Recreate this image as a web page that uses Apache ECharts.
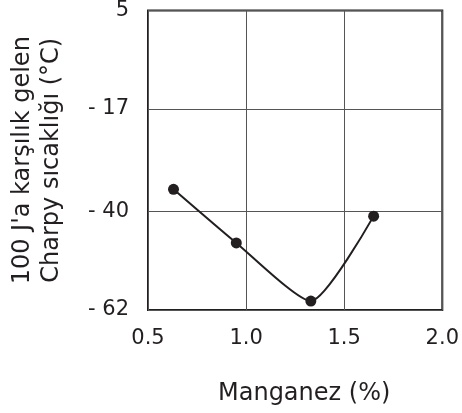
<!DOCTYPE html>
<html>
<head>
<meta charset="utf-8">
<script src="https://cdn.jsdelivr.net/npm/echarts@6/dist/echarts.min.js"></script>
<style>html,body{margin:0;padding:0;background:#fff}#c{width:462px;height:413px}</style>
</head>
<body>
<div id="c"></div>
<script>
var manganese = [0.63, 0.95, 1.33, 1.65];
var charpyTemp = [-35, -47, -60, -41];
var xTicks = [0.5, 1.0, 1.5, 2.0];
var yTicks = [5, -17, -40, -62];

var ink = '#231f20';
var font = 'DejaVu Sans';
var chart = echarts.init(document.getElementById('c'));
chart.setOption({
  animation: false,
  grid: {left: 143, right: 19, top: 10, bottom: 103, show: true, borderColor: ink, borderWidth: 2, backgroundColor: 'transparent'},
  xAxis: {
    type: 'value', min: 0.5, max: 2.0, interval: 0.5,
    name: 'Manganez (%)', nameLocation: 'middle', nameGap: 72,
    nameTextStyle: {fontFamily: font, fontSize: 24, color: ink, padding: [0, 0, 0, 18]},
    axisLine: {show: false}, axisTick: {show: false},
    axisLabel: {fontFamily: font, fontSize: 21, color: ink, margin: 18,
      formatter: function (v) { return v.toFixed(1); }},
    splitLine: {show: true, lineStyle: {color: '#555', width: 1}}
  },
  yAxis: {
    type: 'value', min: -62, max: 5,
    name: "100 J'a karşılık gelen\nCharpy sıcaklığı (°C)", nameLocation: 'middle', nameGap: 82, nameRotate: 90,
    nameTextStyle: {fontFamily: font, fontSize: 24, color: ink, lineHeight: 29},
    axisLine: {show: false},
    axisTick: {show: false, customValues: yTicks},
    axisLabel: {fontFamily: font, fontSize: 21, color: ink, margin: 19, customValues: yTicks,
      formatter: function (v) { return v < 0 ? '- ' + Math.abs(v) : String(v); }},
    splitLine: {show: true, lineStyle: {color: '#555', width: 1}}
  },
  series: [{
    type: 'line',
    data: manganese.map(function (x, i) { return [x, charpyTemp[i]]; }),
    smooth: 0.2,
    symbol: 'circle', symbolSize: 11,
    itemStyle: {color: ink},
    lineStyle: {color: ink, width: 2}
  }]
});
</script>
</body>
</html>
